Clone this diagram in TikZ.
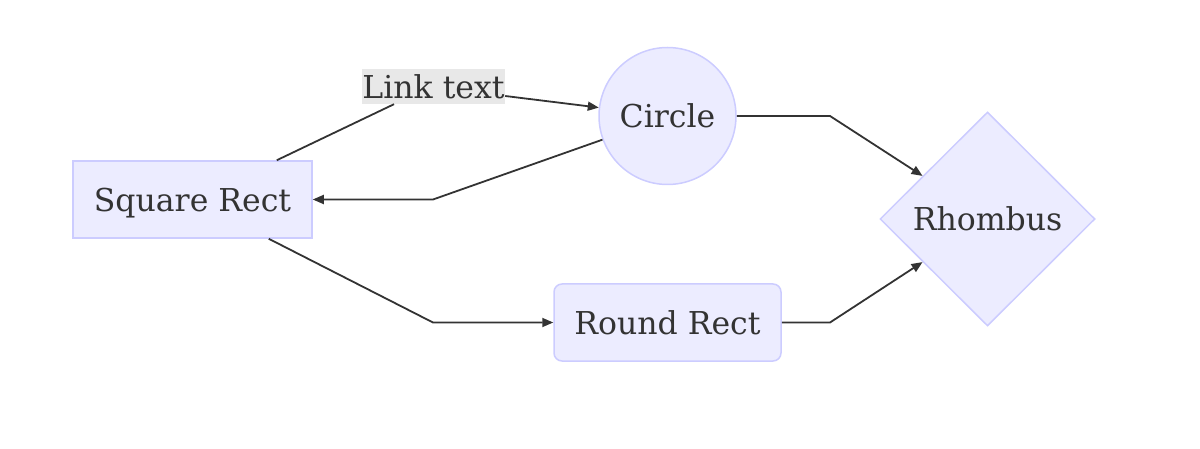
\documentclass[tikz,border=0pt]{standalone}
\usepackage{fontspec}
\setmainfont{DejaVu Serif}
\usetikzlibrary{shapes.geometric,arrows.meta,calc}
\definecolor{nodefill}{HTML}{ECECFF}
\definecolor{nodeline}{HTML}{CCCCFF}
\definecolor{ink}{HTML}{333333}
\definecolor{lblbg}{HTML}{E8E8E8}
\begin{document}
\begin{tikzpicture}[x=1pt,y=-1pt,
  every node/.style={font=\fontsize{31.5}{36}\selectfont, text=ink},
  box/.style={draw=nodeline, fill=nodefill, line width=1.5pt, inner sep=0pt, text depth=0pt},
  edge/.style={draw=ink, line width=1.8pt},
  arr/.style={edge, -{Triangle[length=11pt,width=9pt]}},
  lbl/.style={fill=lblbg, inner sep=0pt, minimum width=143pt, minimum height=35pt}
]
\useasboundingbox (0,0) rectangle (1200,449);
\node[box, rectangle, minimum width=239pt, minimum height=77pt] (sq) at (192.5,199.5) {Square Rect};
\node[box, circle, minimum size=137pt] (ci) at (667.5,116) {Circle};
\node[box, diamond, minimum width=215pt, minimum height=214pt] (rh) at (987.5,219) {Rhombus};
\node[box, rectangle, rounded corners=8pt, minimum width=227pt, minimum height=77pt] (rr) at (667.5,322.5) {Round Rect};
\node[lbl] (lt) at (433.5,86.5) {Link text};
\coordinate (lt1) at ([xshift=-39.5pt]lt.south);
\coordinate (lt2) at ([yshift=-9.5pt]lt.east);
\coordinate (b1) at (433,199.5);
\coordinate (b2) at (433,322.5);
\coordinate (c1) at (830,116);
\coordinate (c2) at (830,322.5);
% edges
\draw[edge] ([xshift=-36pt]sq.north east) -- (lt1);
\draw[arr] (lt2) -- (ci.173);
\draw[arr] (ci.200) -- (b1) -- (sq.east);
\draw[arr] ([xshift=-44pt]sq.south east) -- (b2) -- (rr.west);
\draw[arr] (ci.east) -- (c1) -- ($(rh.west)!0.4!(rh.north)$);
\draw[arr] (rr.east) -- (c2) -- ($(rh.west)!0.4!(rh.south)$);
\end{tikzpicture}
\end{document}
